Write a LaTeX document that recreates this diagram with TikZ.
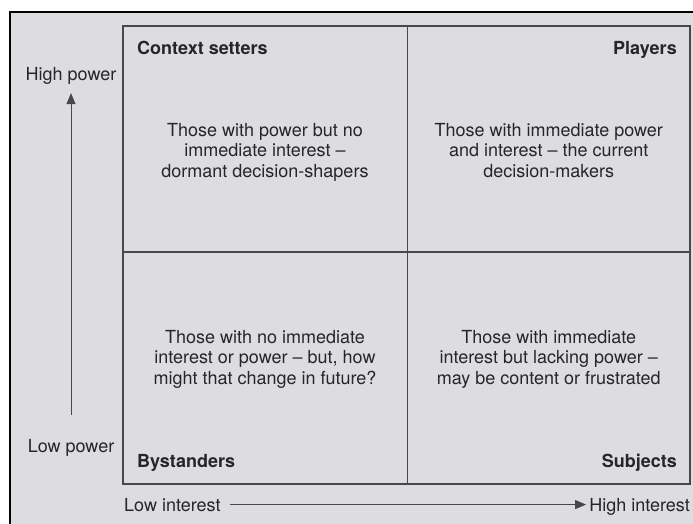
\documentclass[tikz,border=0pt]{standalone}
\usepackage{fontspec}
\setmainfont{TeX Gyre Heros}
\usetikzlibrary{arrows.meta}
\definecolor{panelgrey}{RGB}{221,221,223}
\definecolor{inkgrey}{RGB}{38,38,40}
\definecolor{rulegrey}{RGB}{72,72,74}
\tikzset{
  quadtext/.style={align=center, text=inkgrey, inner sep=0pt, anchor=base,
    font=\fontsize{18}{20.5}\selectfont},
  quadname/.style={text=inkgrey, inner sep=0pt, font=\fontsize{18}{20.5}\selectfont\bfseries},
  axislabel/.style={text=inkgrey, inner sep=0pt, font=\fontsize{18}{20.5}\selectfont},
  gridline/.style={rulegrey, line width=1.3pt},
  axisarrow/.style={rulegrey, line width=1pt, -{Triangle[length=11pt,width=9pt]}}
}
\begin{document}
\begin{tikzpicture}[x=1pt,y=-1pt]
        \useasboundingbox (0,0) rectangle (693,524);
        \clip (0,0) rectangle (693,524);
        % outer frame runs off the page at right and bottom
        \fill[panelgrey] (10,12) rectangle (703,534);
        \draw[black, line width=1.5pt] (10,12) rectangle (703,534);

        % the four quadrants
        \coordinate (nw) at (123,26);
        \coordinate (se) at (690,484);
        \coordinate (mid) at (407.5,252);
        \draw[gridline] (nw) rectangle (se);
        \draw[gridline] (nw -| mid) -- (se -| mid);
        \draw[gridline] (nw |- mid) -- (se |- mid);

        \node[quadname, anchor=base west] (ctx) at (137,55) {Context setters};
        \node[quadname, anchor=base east] (ply) at (677,55) {Players};
        \node[quadname, anchor=base west] (bys) at (137,467) {Bystanders};
        \node[quadname, anchor=base east] (sub) at (677,467) {Subjects};

        % base of a block is its last line
        \node[quadtext] (ctxtxt) at (265,177) {Those with power but no\\immediate interest --\\dormant decision-shapers};
        \node[quadtext] (plytxt) at (548.75,177) {Those with immediate power\\and interest -- the current\\decision-makers};
        \node[quadtext] (bystxt) at (265,384) {Those with no immediate\\interest or power -- but, how\\might that change in future?};
        \node[quadtext] (subtxt) at (548.75,384) {Those with immediate\\interest but lacking power --\\may be content or frustrated};

        % axes
        \node[axislabel, anchor=base] (hipow) at (71,81) {High power};
        \node[axislabel, anchor=base] (lopow) at (71,452) {Low power};
        \node[axislabel, anchor=base west] (loint) at (124,511) {Low interest};
        \node[axislabel, anchor=base east] (hiint) at (690,511) {High interest};

        \draw[axisarrow, shorten <=24pt, shorten >=8pt] (lopow.north) -- (hipow.south);
        \draw[axisarrow, shorten <=9pt, shorten >=3pt] (loint.east) -- (loint.east -| hiint.west);
\end{tikzpicture}
\end{document}
